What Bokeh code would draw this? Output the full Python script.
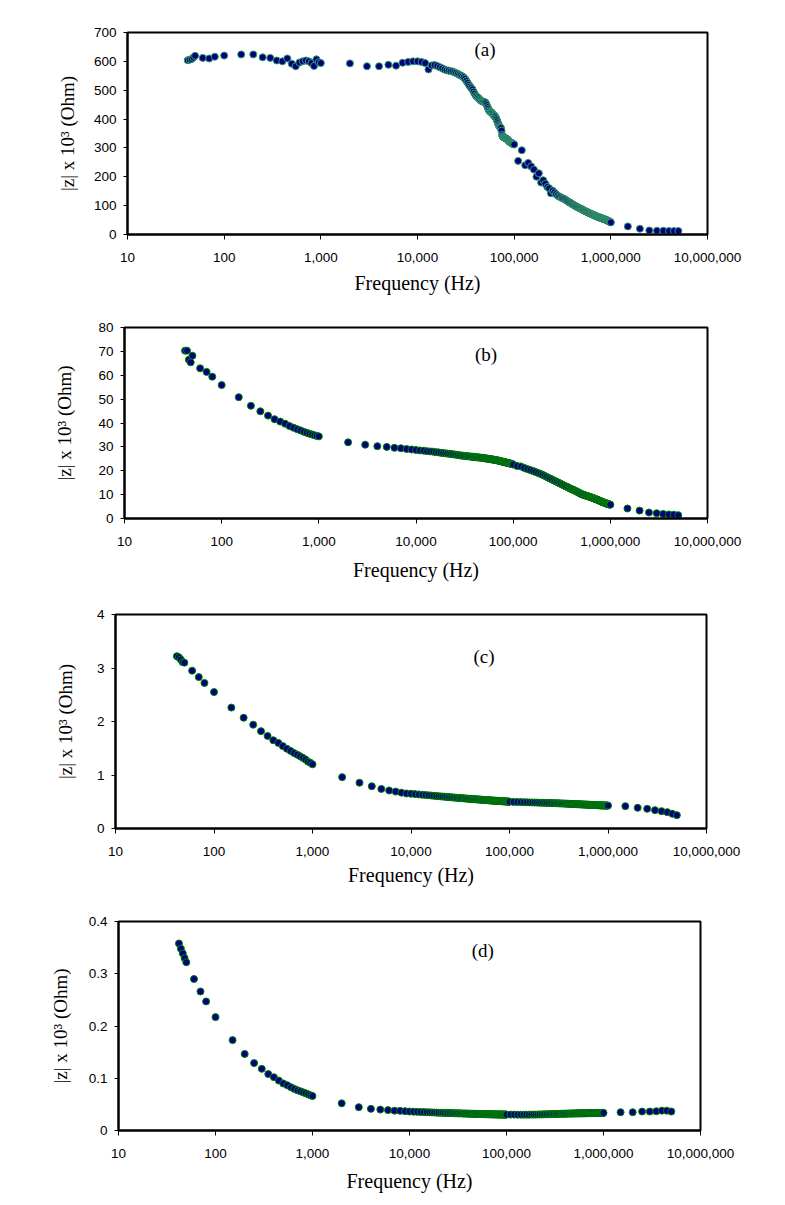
from bokeh.plotting import figure
from bokeh.models import Range1d, FixedTicker, NumeralTickFormatter, Label
from bokeh.embed import file_html
from bokeh.resources import INLINE

# ---------------- data ----------------
freq_low = [42, 44, 46, 48, 50, 60, 70, 80, 100, 150, 200, 250, 300, 350, 400, 450, 500,
            550, 600, 650, 700, 750, 800, 850, 900, 950, 1000]
freq_mid = [2000, 3000, 4000, 5000, 6000, 7000, 8000, 9000]
freq_dense1 = [10000, 11000, 12000, 13000, 14000, 15000, 16000, 17000, 18000, 19000,
               20000, 21000, 22000, 23000, 24000, 25000, 26000, 27000, 28000, 29000,
               30000, 31000, 32000, 33000, 34000, 35000, 36000, 37000, 38000, 39000,
               40000, 41000, 42000, 43000, 44000, 45000, 46000, 47000, 48000, 49000,
               50000, 51000, 52000, 53000, 54000, 55000, 56000, 57000, 58000, 59000,
               60000, 61000, 62000, 63000, 64000, 65000, 66000, 67000, 68000, 69000,
               70000, 71000, 72000, 73000, 74000, 75000, 76000, 77000, 78000, 79000,
               80000, 81000, 82000, 83000, 84000, 85000, 86000, 87000, 88000, 89000,
               90000, 91000, 92000, 93000, 94000, 95000, 96000, 97000, 98000, 99000,
               100000]
freq_dense2 = [110000, 120000, 130000, 140000, 150000, 160000, 170000, 180000, 190000, 200000,
               210000, 220000, 230000, 240000, 250000, 260000, 270000, 280000, 290000, 300000,
               310000, 320000, 330000, 340000, 350000, 360000, 370000, 380000, 390000, 400000,
               410000, 420000, 430000, 440000, 450000, 460000, 470000, 480000, 490000, 500000,
               510000, 520000, 530000, 540000, 550000, 560000, 570000, 580000, 590000, 600000,
               610000, 620000, 630000, 640000, 650000, 660000, 670000, 680000, 690000, 700000,
               710000, 720000, 730000, 740000, 750000, 760000, 770000, 780000, 790000, 800000,
               810000, 820000, 830000, 840000, 850000, 860000, 870000, 880000, 890000, 900000,
               910000, 920000, 930000, 940000, 950000, 960000, 970000, 980000, 990000, 1000000]
freq_high = [1500000, 2000000, 2500000, 3000000, 3500000, 4000000, 4500000, 5000000]

# panel (a)
za_low = [604, 606, 608, 613, 619, 612, 610, 616, 620, 624, 624, 614, 612, 603, 600, 610, 592,
          583, 596, 600, 603, 600, 594, 584, 607, 597, 594]
za_mid = [593, 583, 583, 588, 585, 595, 598, 600]
za_d1 = [600, 598, 594, 572, 586, 587, 584, 580, 576, 572,
         569, 568, 566, 565, 562, 560, 557, 554, 551, 548,
         545, 540, 533, 526, 519, 513, 508, 503, 495, 488,
         482, 478, 475, 472, 468, 465, 463, 461, 460, 459,
         458, 455, 449, 442, 436, 430, 427, 425, 423, 421,
         418, 415, 412, 410, 407, 403, 398, 392, 386, 380,
         376, 373, 371, 369, 360, 345, 340, 338, 337, 336,
         335, 334, 333, 332, 331, 330, 328, 326, 324, 322,
         321, 320, 319, 318, 317, 316, 315, 314, 313, 313,
         312]
za_d2 = [255, 292, 240, 248, 236, 225, 200, 212, 180, 188,
         176, 165, 160, 143, 152, 146, 140, 136, 132, 130,
         127, 125, 123, 120, 117, 115, 112, 110, 108, 105,
         103, 101, 99, 97, 95, 94, 92, 90, 89, 88,
         86, 85, 83, 82, 80, 79, 78, 76, 75, 74,
         73, 72, 71, 70, 69, 68, 67, 66, 65, 64,
         63, 62, 62, 61, 60, 59, 59, 58, 57, 57,
         56, 55, 55, 54, 53, 53, 52, 51, 51, 50,
         49, 49, 48, 47, 46, 46, 45, 44, 43, 42]
za_high = [28, 20, 14, 13, 13, 12, 12, 12]

# panel (b)
zb_low = [70.3, 70.3, 66.5, 65.4, 68.2, 62.9, 61.4, 59.4, 55.9, 50.8, 47.2, 44.9, 43.1, 41.6,
          40.6, 39.7, 38.7, 38.0, 37.4, 36.9, 36.3, 35.9, 35.5, 35.2, 34.9, 34.6, 34.4]
zb_mid = [31.9, 30.9, 30.3, 30.0, 29.6, 29.4, 29.1, 28.9]
zb_d1 = [28.7, 28.5, 28.4, 28.2, 28.1, 28.0, 27.8, 27.7, 27.5, 27.4,
         27.3, 27.2, 27.1, 27.0, 26.9, 26.8, 26.7, 26.6, 26.5, 26.4,
         26.3, 26.3, 26.2, 26.1, 26.1, 26.0, 26.0, 25.9, 25.9, 25.8,
         25.8, 25.7, 25.7, 25.6, 25.6, 25.5, 25.5, 25.4, 25.4, 25.3,
         25.3, 25.2, 25.2, 25.1, 25.1, 25.0, 25.0, 24.9, 24.9, 24.8,
         24.8, 24.7, 24.7, 24.6, 24.6, 24.5, 24.5, 24.4, 24.4, 24.3,
         24.3, 24.2, 24.2, 24.1, 24.0, 24.0, 23.9, 23.9, 23.8, 23.7,
         23.7, 23.6, 23.6, 23.5, 23.5, 23.4, 23.4, 23.3, 23.3, 23.2,
         23.2, 23.1, 23.1, 23.0, 23.0, 22.9, 22.9, 22.8, 22.8, 22.7,
         22.6]
zb_d2 = [22.0, 21.8, 21.2, 20.7, 20.3, 19.9, 19.5, 19.1, 18.7, 18.3,
         17.9, 17.5, 17.1, 16.7, 16.4, 16.0, 15.7, 15.4, 15.1, 14.8,
         14.5, 14.2, 13.9, 13.7, 13.4, 13.2, 13.0, 12.7, 12.5, 12.3,
         12.1, 11.9, 11.7, 11.5, 11.3, 11.1, 10.9, 10.7, 10.5, 10.3,
         10.2, 10.0, 9.9, 9.8, 9.7, 9.6, 9.5, 9.4, 9.3, 9.2,
         9.1, 9.0, 8.9, 8.8, 8.7, 8.6, 8.5, 8.4, 8.3, 8.2,
         8.1, 8.0, 7.9, 7.8, 7.7, 7.6, 7.5, 7.4, 7.3, 7.2,
         7.1, 7.0, 6.9, 6.8, 6.8, 6.7, 6.6, 6.5, 6.4, 6.4,
         6.3, 6.2, 6.2, 6.1, 6.0, 6.0, 5.9, 5.9, 5.8, 5.8]
zb_high = [4.2, 3.3, 2.5, 2.2, 1.9, 1.7, 1.6, 1.4]

# panel (c)
zc_low = [3.22, 3.20, 3.16, 3.11, 3.10, 2.95, 2.83, 2.72, 2.55, 2.26, 2.07, 1.94, 1.82, 1.73,
          1.65, 1.60, 1.54, 1.49, 1.45, 1.41, 1.38, 1.35, 1.32, 1.29, 1.25, 1.23, 1.20]
zc_mid = [0.96, 0.855, 0.79, 0.74, 0.71, 0.69, 0.67, 0.655]
zc_d1 = [0.650, 0.643, 0.637, 0.631, 0.626, 0.621, 0.616, 0.612, 0.608, 0.604,
         0.600, 0.597, 0.594, 0.591, 0.588, 0.585, 0.582, 0.580, 0.577, 0.575,
         0.573, 0.571, 0.569, 0.567, 0.565, 0.563, 0.561, 0.559, 0.557, 0.556,
         0.554, 0.553, 0.551, 0.550, 0.548, 0.547, 0.546, 0.544, 0.543, 0.542,
         0.540, 0.539, 0.538, 0.537, 0.535, 0.534, 0.533, 0.532, 0.531, 0.530,
         0.529, 0.528, 0.527, 0.526, 0.525, 0.524, 0.523, 0.522, 0.522, 0.521,
         0.520, 0.519, 0.518, 0.518, 0.517, 0.516, 0.515, 0.515, 0.514, 0.513,
         0.513, 0.512, 0.511, 0.511, 0.510, 0.509, 0.509, 0.508, 0.508, 0.507,
         0.506, 0.506, 0.505, 0.505, 0.504, 0.504, 0.503, 0.503, 0.502, 0.502,
         0.500]
zc_d2 = [0.497, 0.495, 0.493, 0.491, 0.490, 0.488, 0.487, 0.485, 0.484, 0.483,
         0.481, 0.480, 0.479, 0.478, 0.477, 0.476, 0.475, 0.474, 0.473, 0.472,
         0.471, 0.470, 0.469, 0.468, 0.467, 0.466, 0.465, 0.464, 0.463, 0.462,
         0.461, 0.460, 0.459, 0.458, 0.457, 0.457, 0.456, 0.455, 0.454, 0.453,
         0.453, 0.452, 0.451, 0.450, 0.450, 0.449, 0.448, 0.448, 0.447, 0.446,
         0.446, 0.445, 0.444, 0.444, 0.443, 0.443, 0.442, 0.441, 0.441, 0.440,
         0.440, 0.439, 0.439, 0.438, 0.438, 0.437, 0.437, 0.436, 0.436, 0.435,
         0.435, 0.434, 0.434, 0.433, 0.433, 0.433, 0.432, 0.432, 0.431, 0.431,
         0.431, 0.430, 0.430, 0.430, 0.429, 0.429, 0.429, 0.428, 0.428, 0.428]
zc_high = [0.418, 0.387, 0.368, 0.343, 0.324, 0.306, 0.275, 0.250]

# panel (d)
zd_low = [0.358, 0.348, 0.339, 0.330, 0.322, 0.290, 0.266, 0.247, 0.217, 0.173, 0.1465, 0.129,
          0.118, 0.108, 0.102, 0.0955, 0.090, 0.0866, 0.0828, 0.0796, 0.077, 0.075, 0.073,
          0.0713, 0.0694, 0.0675, 0.066]
zd_mid = [0.052, 0.0446, 0.0414, 0.040, 0.039, 0.038, 0.0376, 0.037]
zd_d1 = [0.0363, 0.0360, 0.0357, 0.0354, 0.0352, 0.0350, 0.0348, 0.0346, 0.0344, 0.0342,
         0.0340, 0.0339, 0.0338, 0.0337, 0.0336, 0.0335, 0.0334, 0.0333, 0.0332, 0.0331,
         0.0330, 0.0329, 0.0328, 0.0328, 0.0327, 0.0326, 0.0325, 0.0325, 0.0324, 0.0323,
         0.0323, 0.0322, 0.0321, 0.0321, 0.0320, 0.0320, 0.0319, 0.0319, 0.0318, 0.0318,
         0.0317, 0.0317, 0.0316, 0.0316, 0.0315, 0.0315, 0.0315, 0.0314, 0.0314, 0.0313,
         0.0313, 0.0313, 0.0312, 0.0312, 0.0312, 0.0311, 0.0311, 0.0311, 0.0310, 0.0310,
         0.0310, 0.0310, 0.0309, 0.0309, 0.0309, 0.0309, 0.0308, 0.0308, 0.0308, 0.0308,
         0.0307, 0.0307, 0.0307, 0.0307, 0.0307, 0.0306, 0.0306, 0.0306, 0.0306, 0.0306,
         0.0306, 0.0305, 0.0305, 0.0305, 0.0305, 0.0305, 0.0305, 0.0305, 0.0305, 0.0305,
         0.0305]
zd_d2 = [0.0304, 0.0304, 0.0303, 0.0303, 0.0303, 0.0303, 0.0303, 0.0304, 0.0304, 0.0305,
         0.0306, 0.0307, 0.0308, 0.0309, 0.0310, 0.0311, 0.0312, 0.0313, 0.0314, 0.0315,
         0.0316, 0.0317, 0.0317, 0.0318, 0.0319, 0.0319, 0.0320, 0.0320, 0.0321, 0.0322,
         0.0322, 0.0323, 0.0323, 0.0324, 0.0324, 0.0325, 0.0325, 0.0326, 0.0326, 0.0326,
         0.0327, 0.0327, 0.0327, 0.0328, 0.0328, 0.0328, 0.0329, 0.0329, 0.0329, 0.0330,
         0.0330, 0.0330, 0.0330, 0.0331, 0.0331, 0.0331, 0.0331, 0.0332, 0.0332, 0.0332,
         0.0332, 0.0332, 0.0333, 0.0333, 0.0333, 0.0333, 0.0333, 0.0334, 0.0334, 0.0334,
         0.0334, 0.0334, 0.0334, 0.0335, 0.0335, 0.0335, 0.0335, 0.0335, 0.0335, 0.0336,
         0.0336, 0.0336, 0.0336, 0.0336, 0.0336, 0.0337, 0.0337, 0.0337, 0.0337, 0.0337]
zd_high = [0.035, 0.035, 0.0363, 0.0363, 0.0368, 0.038, 0.038, 0.0363]

x_ticks = [10, 100, 1000, 10000, 100000, 1000000, 10000000]
ya_ticks = [0, 100, 200, 300, 400, 500, 600, 700]
yb_ticks = [0, 10, 20, 30, 40, 50, 60, 70, 80]
yc_ticks = [0, 1, 2, 3, 4]
yd_ticks = [0, 0.1, 0.2, 0.3, 0.4]

x_label = "Frequency (Hz)"
y_label = "|z| x 10³ (Ohm)"

freq = freq_low + freq_mid + freq_dense1 + freq_dense2 + freq_high
za = za_low + za_mid + za_d1 + za_d2 + za_high
zb = zb_low + zb_mid + zb_d1 + zb_d2 + zb_high
zc = zc_low + zc_mid + zc_d1 + zc_d2 + zc_high
zd = zd_low + zd_mid + zd_d1 + zd_d2 + zd_high
for series in (za, zb, zc, zd):
    assert len(series) == len(freq), (len(series), len(freq))

NAVY = "#000080"
TICK_FONT = "Liberation Sans"
SERIF = "Liberation Serif"


def make_panel(z, y_ticks, fmt, letter, lx, ly, edge, h, top, bottom, left, right,
               ylab_off, xlab_off):
    p = figure(width=770, height=h, x_axis_type="log",
               x_range=Range1d(10, 1e7), y_range=Range1d(y_ticks[0], y_ticks[-1]),
               output_backend="svg", toolbar_location=None,
               min_border_top=top, min_border_bottom=bottom,
               min_border_left=left, min_border_right=right)
    p.background_fill_color = "white"
    p.border_fill_color = "white"
    p.outline_line_color = "black"
    p.outline_line_width = 2
    p.xgrid.visible = False
    p.ygrid.visible = False

    p.scatter(x=freq, y=z, size=7, fill_color=NAVY, line_color=edge, line_width=1)

    p.xaxis.ticker = FixedTicker(ticks=x_ticks)
    p.xaxis.formatter = NumeralTickFormatter(format="0,0")
    p.yaxis.ticker = FixedTicker(ticks=y_ticks)
    p.yaxis.formatter = NumeralTickFormatter(format=fmt)
    for ax in (p.xaxis[0], p.yaxis[0]):
        ax.axis_line_color = "black"
        ax.axis_line_width = 2
        ax.major_tick_line_color = "black"
        ax.major_tick_line_width = 1
        ax.major_tick_in = 0
        ax.minor_tick_line_color = None
        ax.major_label_text_font = TICK_FONT
        ax.major_label_text_font_size = "13.5px"
        ax.major_label_text_color = "black"
        ax.axis_label_text_font = SERIF
        ax.axis_label_text_font_style = "normal"
        ax.axis_label_text_color = "black"
    p.xaxis.axis_label_text_font_size = "20px"
    p.yaxis.axis_label_text_font_size = "19px"
    p.xaxis.major_tick_out = 5
    p.yaxis.major_tick_out = 4
    p.xaxis.major_label_standoff = 13
    p.yaxis.major_label_standoff = 7
    p.xaxis.axis_label = x_label
    p.yaxis.axis_label = y_label
    p.xaxis.axis_label_standoff = xlab_off
    p.yaxis.axis_label_standoff = ylab_off

    p.add_layout(Label(x=lx, y=ly, text=letter, text_font=SERIF, text_font_size="19px",
                       text_align="center", text_baseline="middle", text_color="black"))
    return p


pa = make_panel(za, ya_ticks, "0", "(a)", 50000, 640, "#339966",
                300, 32, 66, 127, 63, 13, 7)
pb = make_panel(zb, yb_ticks, "0", "(b)", 52500, 68.6, "#008000",
                296, 27, 78, 124, 63, 20, 10)
pc = make_panel(zc, yc_ticks, "0", "(c)", 55000, 3.21, "#008000",
                300, 18, 68, 115, 64, 18, 5)
pd = make_panel(zd, yd_ticks, "0.[0]", "(d)", 57000, 0.345, "#008000",
                301, 25, 67, 118, 70, 15, 9)

open("out.html", "w").write(file_html([pa, pb, pc, pd], INLINE))
